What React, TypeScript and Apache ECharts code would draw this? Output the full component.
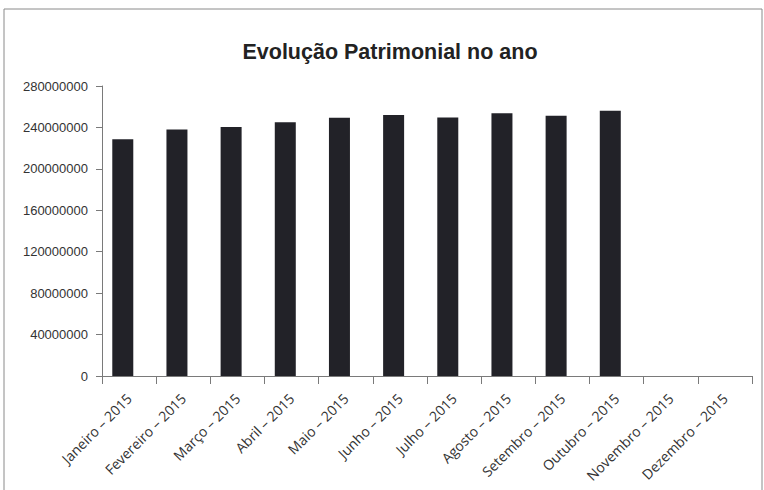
import React, { useEffect, useRef } from "react";
import * as echarts from "echarts";

const titleText = "Evolução Patrimonial no ano";
const categories = [
  "Janeiro – 2015",
  "Fevereiro – 2015",
  "Março – 2015",
  "Abril – 2015",
  "Maio – 2015",
  "Junho – 2015",
  "Julho – 2015",
  "Agosto – 2015",
  "Setembro – 2015",
  "Outubro – 2015",
  "Novembro – 2015",
  "Dezembro – 2015",
];
const values: (number | null)[] = [
  228500000, 238000000, 240300000, 245000000, 249300000, 251900000,
  249600000, 253800000, 251300000, 256100000, null, null,
];
// second (empty) series of the original clustered chart
const emptySeries: (number | null)[] = categories.map(() => null);
const yMin = 0;
const yMax = 280000000;
const yInterval = 40000000;

export default function App() {
  const ref = useRef<HTMLDivElement>(null);
  useEffect(() => {
    if (!ref.current) return;
    const chart = echarts.init(ref.current, null, { renderer: "svg" });
    chart.setOption({
      animation: false,
      backgroundColor: "#ffffff",
      title: {
        text: titleText,
        left: 385,
        textAlign: "center",
        top: 36,
        textStyle: {
          fontFamily: "Liberation Sans",
          fontWeight: "bold",
          fontSize: 21.5,
          color: "#222222",
        },
      },
      graphic: [
        {
          type: "rect",
          shape: { x: 4, y: 9, width: 758, height: 500 },
          style: { fill: "none", stroke: "#8a8a8a", lineWidth: 1 },
          silent: true,
          z: -1,
        },
      ],
      grid: { left: 102, right: 12, top: 86, bottom: 114, containLabel: false },
      xAxis: {
        type: "category",
        data: categories,
        boundaryGap: true,
        axisLine: { show: true, lineStyle: { color: "#7a7a7a", width: 1 } },
        axisTick: { show: true, length: 8, alignWithLabel: false, lineStyle: { color: "#7a7a7a" } },
        axisLabel: {
          interval: 0,
          rotate: 45,
          margin: 20,
          fontFamily: "Open Sans",
          fontSize: 14,
          color: "#333333",
        },
        splitLine: { show: false },
      },
      yAxis: {
        type: "value",
        min: yMin,
        max: yMax,
        interval: yInterval,
        axisLine: { show: true, lineStyle: { color: "#7a7a7a", width: 1 } },
        axisTick: { show: true, length: 6, lineStyle: { color: "#7a7a7a" } },
        axisLabel: {
          margin: 14,
          fontFamily: "Liberation Sans",
          fontSize: 13,
          color: "#333333",
          formatter: (v: number) => String(v),
        },
        splitLine: { show: false },
      },
      series: [
        {
          type: "bar",
          data: values,
          barWidth: 21,
          barGap: "-40%",
          itemStyle: { color: "#222228" },
        },
        {
          type: "bar",
          data: emptySeries,
          barWidth: 21,
          itemStyle: { color: "#222228" },
        },
      ],
    });
    return () => chart.dispose();
  }, []);
  return (
    <div
      ref={ref}
      style={{ position: "fixed", left: 0, top: 0, width: 764, height: 490 }}
    />
  );
}
